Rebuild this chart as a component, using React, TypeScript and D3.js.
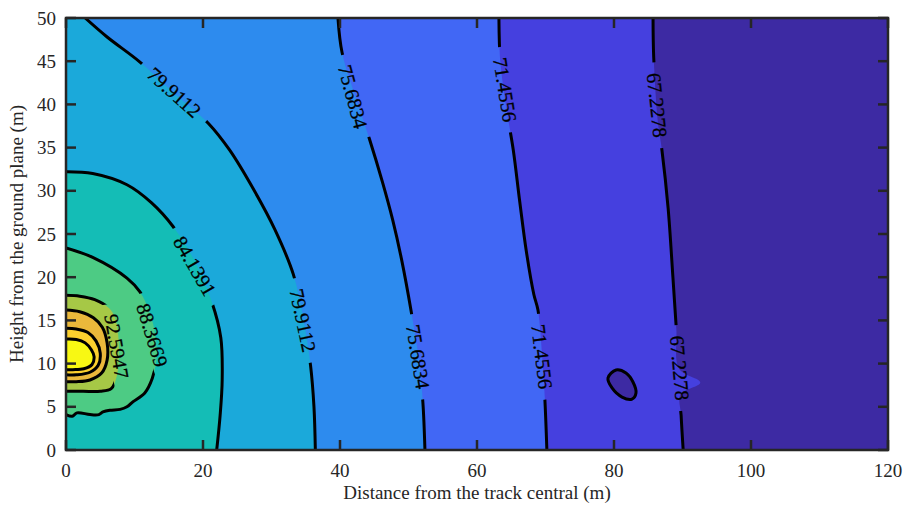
import React from 'react';
import * as d3 from 'd3';

const W = 908;
const H = 507;
const PLOT = { left: 66, top: 18, right: 888, bottom: 450 };

const xTicks = [0, 20, 40, 60, 80, 100, 120];
const yTicks = [0, 5, 10, 15, 20, 25, 30, 35, 40, 45, 50];

const levelLabels = ['67.2278', '71.4556', '75.6834', '79.9112', '84.1391', '88.3669', '92.5947', '96.8225', '101.0503', '105.2781'];

// fill colour of each band, from lowest (right) to highest (peak)
const bandColors = ['#3d2aa3', '#4540df', '#4167f5', '#2d8bee', '#1ba9da', '#14bdb6', '#4dcb84', '#a6c846', '#eab83b', '#fcd02e', '#f8f813'];

// contour lines [x (m), y (m)]
const c67 = [[85.7, 50], [85.8, 45.4], [86.4, 38], [87.0, 34.7], [87.9, 28], [88.6, 20], [89.1, 14], [89.5, 9.4], [92.6, 7.8], [89.7, 6.4], [89.8, 4], [90.1, 0]];
const c71 = [[63.2, 50], [63.4, 45], [64.2, 40], [65.3, 34.7], [66.2, 29], [67.2, 23], [68.3, 18], [68.9, 16.2], [69.5, 11], [69.9, 6], [70.2, 0]];
const c75 = [[39.7, 50], [40.3, 46], [42.2, 41], [44.3, 36], [46.2, 31], [47.7, 26.6], [49.0, 22], [50.4, 16], [51.5, 10.5], [52.1, 5.5], [52.4, 0]];
const c79 = [[2.8, 50], [6, 47.8], [10.8, 44.9], [15.5, 41.5], [20.8, 37.8], [23.9, 34.7], [27.5, 30], [30.5, 25.5], [33.2, 20.3], [34.7, 15], [35.7, 9.8], [36.2, 5], [36.4, 0]];
const c84 = [[0, 32.2], [3.9, 32.0], [8.9, 30.7], [12.5, 28.6], [15.6, 25.9], [18.5, 22.3], [21.3, 17.1], [22.6, 13], [22.8, 8.1], [22.5, 4], [22.0, 0]];
const c88 = [[0, 23.4], [3.9, 22.3], [8.9, 19.9], [10.8, 18.3], [12.2, 16], [13.1, 13], [13.2, 10.5], [12.6, 8.3], [11.5, 6.6], [9.8, 5.6], [8.9, 5.0], [7.9, 4.7], [6.4, 4.6], [5.4, 4.4], [4.8, 4.1], [3.5, 4.1], [1.6, 4.3], [0.9, 3.9], [0, 4.1]];
const c92 = [[0, 17.9], [2, 17.8], [4.2, 17.4], [6.3, 16.4], [7.2, 15.2], [7.6, 13.5], [7.7, 11], [7.4, 8.5], [6.6, 7.1], [5, 6.8], [2.5, 6.8], [0, 6.8]];
const c96 = [[0, 16.2], [2, 16.0], [4, 15.3], [5.3, 14.2], [6.0, 12.4], [6.0, 10.4], [5.2, 8.9], [3.5, 8.1], [1.5, 7.9], [0, 7.9]];
const c101 = [[0, 14.1], [1.5, 14.0], [3.2, 13.6], [4.4, 12.6], [5.0, 11.2], [4.7, 9.8], [3.5, 9.0], [1.5, 8.7], [0, 8.7]];
const c105 = [[0, 12.85], [1.5, 12.8], [2.8, 12.4], [3.7, 11.6], [4.1, 10.8], [3.8, 9.9], [2.6, 9.4], [1, 9.3], [0, 9.3]];
// small closed 67.2278 contour around a local minimum
const cMin = [[80.3, 9.26], [81.75, 8.91], [82.77, 7.87], [83.21, 6.6], [82.63, 5.9], [81.17, 6.13], [79.71, 7.18], [79.12, 8.33]];

// corners of the domain used to close each "above level" region
const closeTopBottom = [[0, 0], [0, 50]];
const closeBottom = [[0, 0]];
const closeLeft: number[][] = [];

const contourLines = [
  { level: 0, pts: c67, close: closeTopBottom },
  { level: 1, pts: c71, close: closeTopBottom },
  { level: 2, pts: c75, close: closeTopBottom },
  { level: 3, pts: c79, close: closeTopBottom },
  { level: 4, pts: c84, close: closeBottom },
  { level: 5, pts: c88, close: closeLeft },
  { level: 6, pts: c92, close: closeLeft },
  { level: 7, pts: c96, close: closeLeft },
  { level: 8, pts: c101, close: closeLeft },
  { level: 9, pts: c105, close: closeLeft },
];

// in-line labels: level index, position (m), rotation (deg)
const labels = [
  { level: 3, x: 15.8, y: 41.4, angle: 42 },
  { level: 2, x: 41.9, y: 40.9, angle: 75 },
  { level: 1, x: 64.1, y: 41.7, angle: 81 },
  { level: 0, x: 86.3, y: 39.9, angle: 84 },
  { level: 4, x: 18.8, y: 21.3, angle: 60 },
  { level: 3, x: 34.6, y: 15.0, angle: 78 },
  { level: 2, x: 51.4, y: 10.8, angle: 81 },
  { level: 1, x: 69.5, y: 10.8, angle: 83 },
  { level: 0, x: 89.6, y: 9.5, angle: 85 },
  { level: 5, x: 12.6, y: 13.3, angle: 73 },
  { level: 6, x: 7.4, y: 12.0, angle: 80 },
];

const AXIS = '#262626';
const FONT = "'Liberation Serif', 'Times New Roman', serif";

export default function App() {
  const x = d3.scaleLinear().domain([0, 120]).range([PLOT.left, PLOT.right]);
  const y = d3.scaleLinear().domain([0, 50]).range([PLOT.bottom, PLOT.top]);
  const line = d3
    .line<number[]>()
    .x((d) => x(d[0]))
    .y((d) => y(d[1]))
    .curve(d3.curveCatmullRom.alpha(0.5));
  const closedLine = d3
    .line<number[]>()
    .x((d) => x(d[0]))
    .y((d) => y(d[1]))
    .curve(d3.curveCatmullRomClosed.alpha(0.5));

  const fillPath = (pts: number[][], close: number[][]) =>
    (line(pts) || '') + close.map((c) => `L${x(c[0])},${y(c[1])}`).join('') + 'Z';

  const tickLen = 10;
  const gap = 86;
  const gapHeight = (level: number) => (level === 0 ? 50 : 18);

  return (
    <svg width={W} height={H} style={{ position: 'fixed', left: 0, top: 0, background: '#fff' }}>
      <defs>
        <clipPath id="plotClip">
          <rect x={PLOT.left} y={PLOT.top} width={PLOT.right - PLOT.left} height={PLOT.bottom - PLOT.top} />
        </clipPath>
        {levelLabels.map((_, li) => (
          <mask id={`m${li}`} key={li} maskUnits="userSpaceOnUse" x={0} y={0} width={W} height={H}>
            <rect x={0} y={0} width={W} height={H} fill="#fff" />
            {labels
              .filter((l) => l.level === li)
              .map((l, k) => (
                <rect
                  key={k}
                  x={-gap / 2}
                  y={-gapHeight(li) / 2}
                  width={gap}
                  height={gapHeight(li)}
                  fill="#000"
                  transform={`translate(${x(l.x)},${y(l.y)}) rotate(${l.angle})`}
                />
              ))}
          </mask>
        ))}
      </defs>
      <g clipPath="url(#plotClip)">
        <rect x={PLOT.left} y={PLOT.top} width={PLOT.right - PLOT.left} height={PLOT.bottom - PLOT.top} fill={bandColors[0]} />
        {contourLines.map((c) => (
          <path key={`f${c.level}`} d={fillPath(c.pts, c.close)} fill={bandColors[c.level + 1]} stroke="none" />
        ))}
        <path d={closedLine(cMin) || ''} fill={bandColors[0]} stroke="none" />
        {contourLines.map((c) => (
          <path
            key={`l${c.level}`}
            d={line(c.pts) || ''}
            fill="none"
            stroke="#000"
            strokeWidth={3}
            strokeLinejoin="round"
            mask={`url(#m${c.level})`}
          />
        ))}
        <path d={closedLine(cMin) || ''} fill="none" stroke="#000" strokeWidth={3} />
        {labels.map((l, i) => (
          <text
            key={i}
            transform={`translate(${x(l.x)},${y(l.y)}) rotate(${l.angle})`}
            textAnchor="middle"
            dominantBaseline="central"
            fontFamily={FONT}
            fontSize={20}
            fill="#000"
            stroke="#000"
            strokeWidth={0.3}
          >
            {levelLabels[l.level]}
          </text>
        ))}
      </g>
      {/* frame */}
      <rect
        x={PLOT.left}
        y={PLOT.top}
        width={PLOT.right - PLOT.left}
        height={PLOT.bottom - PLOT.top}
        fill="none"
        stroke={AXIS}
        strokeWidth={2.5}
      />
      {xTicks.map((t) => (
        <g key={`xt${t}`}>
          <line x1={x(t)} x2={x(t)} y1={PLOT.bottom} y2={PLOT.bottom - tickLen} stroke={AXIS} strokeWidth={2.5} />
          <line x1={x(t)} x2={x(t)} y1={PLOT.top} y2={PLOT.top + tickLen} stroke={AXIS} strokeWidth={2.5} />
          <text x={x(t)} y={477} textAnchor="middle" fontFamily={FONT} fontSize={19} fill={AXIS}>
            {t}
          </text>
        </g>
      ))}
      {yTicks.map((t) => (
        <g key={`yt${t}`}>
          <line x1={PLOT.left} x2={PLOT.left + tickLen} y1={y(t)} y2={y(t)} stroke={AXIS} strokeWidth={2.5} />
          <line x1={PLOT.right} x2={PLOT.right - tickLen} y1={y(t)} y2={y(t)} stroke={AXIS} strokeWidth={2.5} />
          <text x={56} y={y(t)} textAnchor="end" dominantBaseline="central" fontFamily={FONT} fontSize={19} fill={AXIS}>
            {t}
          </text>
        </g>
      ))}
      <text x={(PLOT.left + PLOT.right) / 2} y={499} textAnchor="middle" fontFamily={FONT} fontSize={19} fill={AXIS}>
        Distance from the track central (m)
      </text>
      <text
        transform={`translate(23,${(PLOT.top + PLOT.bottom) / 2}) rotate(-90)`}
        textAnchor="middle"
        fontFamily={FONT}
        fontSize={19}
        fill={AXIS}
      >
        Height from the ground plane (m)
      </text>
    </svg>
  );
}
